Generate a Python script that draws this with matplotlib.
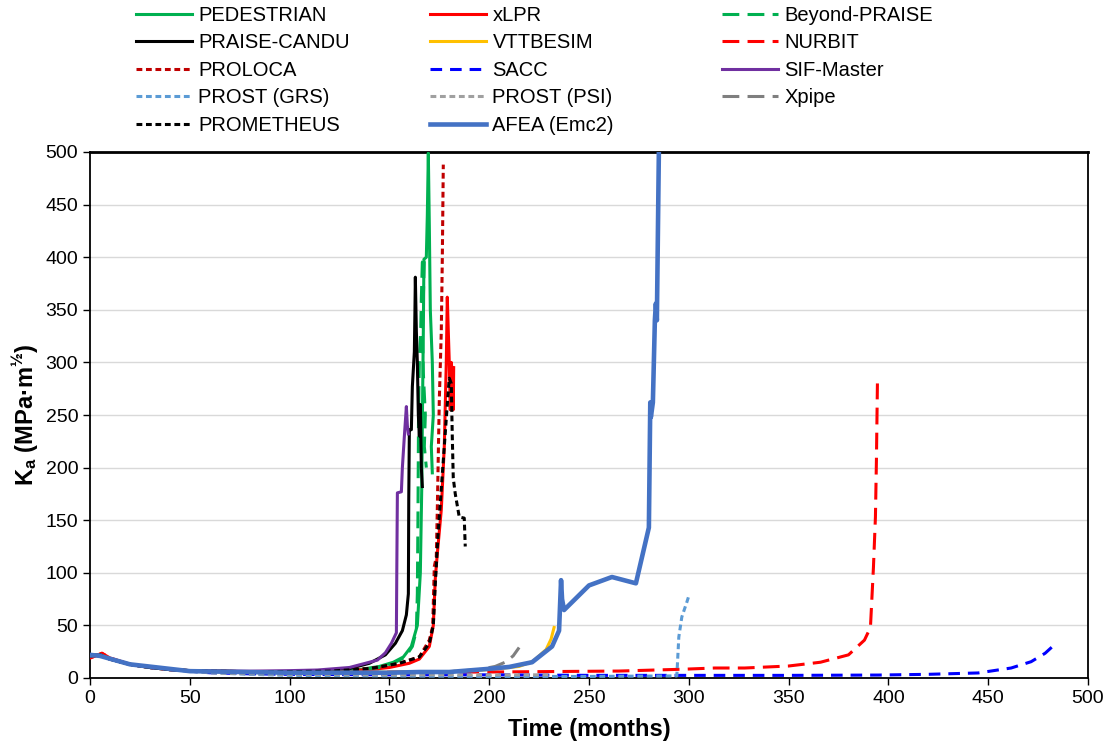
import matplotlib
matplotlib.use("Agg")
import matplotlib.pyplot as plt

plt.rcParams['font.family'] = ['Liberation Sans', 'DejaVu Sans']
plt.rcParams['mathtext.default'] = 'regular'

# ---------------- data (time in months, Ka in MPa*m^0.5) ----------------
ped_t = [0, 5, 10, 20, 30, 40, 50, 60, 80, 100, 120, 135, 145, 152, 157, 161, 164, 165.5, 166.2, 166.6, 167, 167.3, 168.5, 169, 169.5, 170, 170.5, 171.5, 172, 171, 171.5]
ped_k = [21, 22, 18, 13, 10, 8, 7, 6.5, 6, 6, 6.5, 8, 11, 15, 20, 30, 50, 100, 180, 260, 330, 398, 400, 440, 499, 430, 350, 300, 250, 220, 195]

xlpr_t = [0, 6, 10, 20, 30, 40, 50, 60, 80, 100, 120, 140, 150, 160, 165, 170, 172, 173, 174, 176, 177.5, 178.5, 179, 179.5, 180, 180.5, 181, 181.5, 182, 182.2]
xlpr_k = [19, 23.5, 19, 13, 10, 8, 7, 6.5, 6, 6, 6, 8, 10, 14, 18, 30, 50, 95, 118, 160, 220, 300, 362, 330, 300, 255, 300, 290, 255, 295]

bp_t = [0, 5, 10, 20, 30, 40, 50, 60, 80, 100, 120, 135, 145, 152, 158, 161.5, 163.5, 164, 164.3, 164.6, 165, 165.7, 166, 166.5, 167.5, 167, 166.5, 167, 168, 167.5, 168.5]
bp_k = [21, 22, 18, 13, 10, 8, 7, 6.5, 6, 6, 6.5, 8, 10, 14, 20, 30, 45, 80, 150, 250, 300, 330, 360, 395, 400, 360, 330, 290, 250, 220, 200]

pc_t = [0, 5, 10, 20, 30, 40, 50, 60, 80, 100, 120, 130, 140, 148, 153, 156.5, 158.5, 159.5, 159.7, 160, 161, 161.5, 162.5, 162.8, 163, 163.5, 164, 164.5, 165, 165.5, 166, 166.5]
pc_k = [21, 22, 18, 13, 10, 8, 7, 6.5, 6, 6, 7, 9, 14, 22, 33, 45, 60, 80, 170, 236, 236, 277, 310, 350, 381, 330, 300, 250, 230, 260, 200, 182]

vtt_t = [0, 5, 10, 20, 30, 40, 50, 60, 80, 100, 120, 150, 180, 200, 215, 222, 228.5, 231, 232.5]
vtt_k = [21, 22, 18, 13, 10, 8, 7, 6.5, 6, 5.5, 5.5, 5.5, 6, 8, 11, 16, 27, 37, 48]

nur_t = [0, 6, 10, 20, 30, 40, 50, 60, 80, 100, 150, 200, 265, 298, 313, 328, 350, 366, 380, 388, 391, 392.5, 393.5, 394, 394.5]
nur_k = [19, 23.5, 19, 13, 10, 8, 7, 6.5, 6, 5.5, 5.5, 5.7, 6.6, 8.4, 9.5, 9.5, 11.4, 15, 22, 36, 48, 105, 153, 207, 280]

prol_t = [0, 5, 10, 20, 30, 40, 50, 60, 80, 100, 120, 140, 145, 155, 165, 170, 171.7, 172.5, 173.5, 174, 175, 176, 176.5, 177]
prol_k = [21, 22, 18, 13, 10, 8, 7, 6.5, 6, 6, 6.5, 9, 10.5, 14, 20, 36, 49, 106, 115, 160, 264, 330, 397, 488]

sacc_t = [0, 5, 10, 20, 30, 40, 50, 60, 80, 100, 150, 200, 250, 300, 350, 395, 420, 445, 461.5, 471.5, 478.5, 484]
sacc_k = [21, 22, 18, 13, 10, 8, 6.5, 5, 4, 3.5, 3, 3, 2.5, 2.5, 2.5, 2.8, 3.5, 4.8, 9.5, 15.5, 23.5, 33]

sif_t = [0, 5, 10, 20, 30, 40, 50, 60, 80, 100, 114, 130, 144, 148, 151, 153.5, 153.7, 154, 156, 156.5, 157.5, 158.5, 159, 159.5]
sif_k = [21, 22, 18, 13, 10, 8, 7, 6.8, 6.5, 7, 7.6, 10, 17, 24, 33, 43, 100, 176, 177, 200, 230, 258, 240, 232]

grs_t = [0, 5, 10, 20, 30, 40, 50, 60, 80, 100, 150, 200, 250, 294, 295, 296.5, 299, 300]
grs_k = [21, 22, 18, 13, 10, 8, 6.5, 5, 3.5, 2.5, 2, 1.5, 1.5, 2, 39, 58, 72, 78]

psi_t = [0, 5, 10, 20, 30, 40, 50, 60, 80, 100, 150, 200, 230]
psi_k = [21, 22, 18, 13, 10, 8, 6.5, 5, 4, 3.5, 3, 3, 3]

xp_t = [0, 5, 10, 20, 30, 40, 50, 60, 80, 100, 150, 180, 195, 203, 208, 212, 215]
xp_k = [21, 22, 18, 13, 10, 8, 7, 6.5, 6, 5.5, 5.5, 6, 8, 11, 15, 21, 29]

prom_t = [0, 5, 10, 20, 30, 40, 50, 60, 80, 100, 120, 140, 145, 155, 165, 170, 172, 173, 174.5, 176, 177.5, 179, 180, 181, 181.5, 182, 183, 185, 187.5, 188]
prom_k = [21, 22, 18, 13, 10, 8, 7, 6.5, 6, 6, 6.5, 9, 10.5, 14, 20, 33, 50, 90, 140, 180, 220, 260, 285, 280, 230, 190, 175, 153, 152, 125]

afea_t = [0, 5, 20, 50, 100, 150, 165, 180, 198.5, 210, 221.5, 231.5, 235, 236, 236.5, 237.5, 250, 261.5, 273.5, 280, 280.7, 281, 282, 283, 283.5, 284, 285]
afea_k = [22, 21, 13, 6.5, 5, 5, 5.7, 5.7, 8.5, 10.5, 15, 30, 45, 93, 75, 64.6, 88, 96, 90, 143, 262, 248, 262, 340, 356, 340, 500]

names = ['PEDESTRIAN', 'xLPR', 'Beyond-PRAISE', 'PRAISE-CANDU', 'VTTBESIM', 'NURBIT',
         'PROLOCA', 'SACC', 'SIF-Master', 'PROST (GRS)', 'PROST (PSI)', 'Xpipe',
         'PROMETHEUS', 'AFEA (Emc2)']
series_t = [ped_t, xlpr_t, bp_t, pc_t, vtt_t, nur_t, prol_t, sacc_t, sif_t, grs_t, psi_t, xp_t, prom_t, afea_t]
series_k = [ped_k, xlpr_k, bp_k, pc_k, vtt_k, nur_k, prol_k, sacc_k, sif_k, grs_k, psi_k, xp_k, prom_k, afea_k]

x_ticks = [0, 50, 100, 150, 200, 250, 300, 350, 400, 450, 500]
y_ticks = [0, 50, 100, 150, 200, 250, 300, 350, 400, 450, 500]

# ---------------- styles ----------------
LONG = (0, (5.5, 2.7))
SHORT = (0, (3.8, 2.6))
DOT = (0, (1.9, 1.2))
styles = [
    dict(color='#00B050', ls='-'),
    dict(color='#FF0000', ls='-'),
    dict(color='#00B050', ls=LONG),
    dict(color='#000000', ls='-'),
    dict(color='#FFC000', ls='-'),
    dict(color='#FF0000', ls=LONG),
    dict(color='#C00000', ls=DOT),
    dict(color='#0000FF', ls=SHORT),
    dict(color='#7030A0', ls='-'),
    dict(color='#5B9BD5', ls=DOT),
    dict(color='#A0A0A0', ls=DOT),
    dict(color='#7F7F7F', ls=LONG),
    dict(color='#000000', ls=DOT),
    dict(color='#4472C4', ls='-'),
]

fig = plt.figure(figsize=(11.04, 7.53), dpi=100)
ax = fig.add_axes([90 / 1104, 1 - 678 / 753, 998 / 1104, 526 / 753])

handles = []
for i, (n, t, k) in enumerate(zip(names, series_t, series_k)):
    lw = 3.3 if n.startswith('AFEA') else 2.2
    ln, = ax.plot(t, k, color=styles[i]['color'], linestyle=styles[i]['ls'], lw=lw,
                  label=n, zorder=3 + i * 0.01, solid_joinstyle='round', dash_capstyle='butt')
    handles.append(ln)

ax.set_xlim(0, 500)
ax.set_ylim(0, 500)
ax.set_xticks(x_ticks)
ax.set_yticks(y_ticks)
ax.yaxis.grid(True, color='#D9D9D9', lw=1.0)
ax.set_axisbelow(True)
for s in ax.spines.values():
    s.set_color('black')
    s.set_linewidth(1.3)
ax.spines['top'].set_linewidth(2.0)
ax.tick_params(axis='both', direction='out', length=5, width=1, labelsize=14, colors='black')
ax.set_xlabel('Time (months)', fontsize=17, fontweight='bold', labelpad=8)
ax.set_ylabel('K$_a$ (MPa·m$^{½}$)', fontsize=17, fontweight='bold', labelpad=4)

# legend: three manually placed columns
cols = [[0, 3, 6, 9, 12], [1, 4, 7, 10, 13], [2, 5, 8, 11]]
xpos = [136, 430, 722]
for c, xp in zip(cols, xpos):
    fig.legend([handles[i] for i in c], [names[i] for i in c], loc='upper left',
               bbox_to_anchor=(xp / 1104, 1 - 6 / 753), frameon=False, fontsize=14.5,
               handlelength=2.8, handletextpad=0.3, labelspacing=0.42, borderpad=0,
               borderaxespad=0)

fig.savefig('out.png', dpi=100)
